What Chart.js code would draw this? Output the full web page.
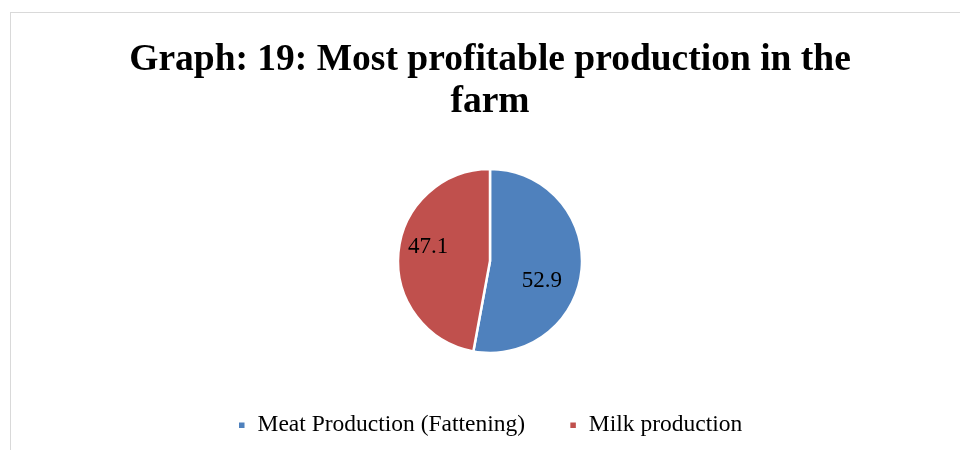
<!DOCTYPE html>
<html>
<head>
<meta charset="utf-8">
<script src="https://cdn.jsdelivr.net/npm/chart.js@4.4.1/dist/chart.umd.min.js"></script>
<style>
  html, body { margin: 0; padding: 0; background: #fff; overflow: hidden; width: 960px; height: 450px; }
  #frame {
    position: absolute; left: 10px; top: 12px;
    width: 960px; height: 450px;
    border: 1px solid #d9d9d9; box-sizing: border-box; background: #fff;
  }
  #chart { display: block; }
</style>
</head>
<body>
<div id="frame"><canvas id="chart" width="958" height="448"></canvas></div>
<script>
// Share of farms naming each production as the most profitable (%)
const categories = ['Meat Production (Fattening)', 'Milk production'];
const shares = [52.9, 47.1];
const sliceColors = ['#4F81BD', '#C0504D'];

const SERIF = "'Liberation Serif', 'Times New Roman', serif";

// Writes each slice's value inside the slice, a little past its middle angle
const labelTurn = [0.28, 0.13];
const labelDepth = [0.605, 0.69];
const sliceLabels = {
    id: 'sliceLabels',
    afterDatasetsDraw(chart) {
        const { ctx } = chart;
        const meta = chart.getDatasetMeta(0);
        ctx.save();
        ctx.font = '23px ' + SERIF;
        ctx.fillStyle = '#000';
        ctx.textAlign = 'center';
        ctx.textBaseline = 'middle';
        meta.data.forEach((arc, i) => {
            const { x, y, startAngle, endAngle, outerRadius } = arc.getProps(['x', 'y', 'startAngle', 'endAngle', 'outerRadius'], true);
            const mid = (startAngle + endAngle) / 2 + labelTurn[i];
            const r = outerRadius * labelDepth[i];
            ctx.fillText(shares[i].toFixed(1), x + Math.cos(mid) * r, y + Math.sin(mid) * r);
        });
        ctx.restore();
    }
};

new Chart(document.getElementById('chart'), {
    type: 'pie',
    data: {
        labels: categories,
        datasets: [{
            data: shares,
            backgroundColor: sliceColors,
            borderColor: '#ffffff',
            borderWidth: 2.5,
            radius: 92
        }]
    },
    options: {
        responsive: false,
        animation: false,
        layout: { padding: { top: 0, bottom: 14 } },
        plugins: {
            title: {
                display: true,
                text: ['Graph: 19: Most profitable production in the', 'farm'],
                color: '#000',
                font: { family: SERIF, size: 37.5, weight: 'bold', lineHeight: 1.1 },
                padding: { top: 27, bottom: 30 }
            },
            legend: {
                position: 'bottom',
                labels: {
                    color: '#000',
                    font: { family: SERIF, size: 23.5 },
                    boxWidth: 8,
                    boxHeight: 8,
                    padding: 44
                }
            },
            tooltip: { enabled: false }
        }
    },
    plugins: [sliceLabels]
});
</script>
</body>
</html>
